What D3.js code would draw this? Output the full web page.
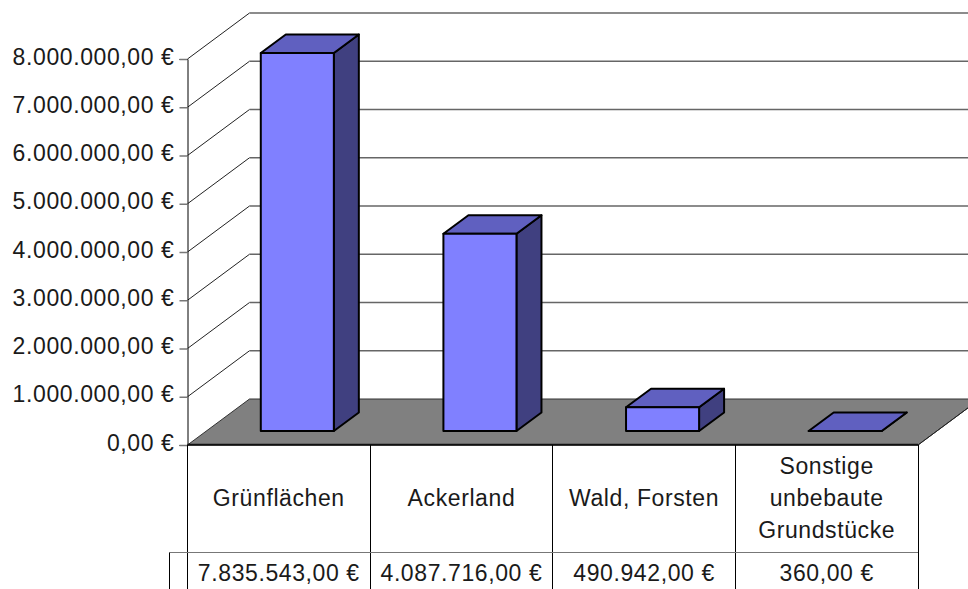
<!DOCTYPE html>
<html>
<head>
<meta charset="utf-8">
<script src="https://d3js.org/d3.v7.min.js"></script>
<style>
html, body { margin: 0; padding: 0; background: #fff; }
svg { display: block; }
text { font-family: "Liberation Sans", Arial, sans-serif; font-size: 23px; letter-spacing: 0.6px; fill: #1a1a1a; }
</style>
</head>
<body>
<svg id="chart" width="968" height="589"></svg>
<script>
const categories = ["Grünflächen", "Ackerland", "Wald, Forsten", "Sonstige unbebaute Grundstücke"];
const categoryLines = [["Grünflächen"], ["Ackerland"], ["Wald, Forsten"], ["Sonstige", "unbebaute", "Grundstücke"]];
const values = [7835543, 4087716, 490942, 360];
const tickValues = [0, 1000000, 2000000, 3000000, 4000000, 5000000, 6000000, 7000000, 8000000];

const svg = d3.select("#chart");
const width = 968, height = 589;

// plot frame, 3d depth of the walls and of the bars
const left = 187.5, right = 918, y0 = 445, yTop = 59;
const wallDx = 62, wallDy = -46;
const barDx = 25, barDy = -18.5;
const barShiftX = 18.5, barShiftY = -14;

const de = d3.formatLocale({decimal: ",", thousands: ".", grouping: [3], currency: ["", " €"]});
const euro = d => de.format(",.2f")(d) + " €";

const x = d3.scaleBand().domain(categories).range([left, right]).paddingInner(0).paddingOuter(0);
const y = d3.scaleLinear().domain([0, 8000000]).range([y0, yTop]);
const barWidth = x.bandwidth() * 0.4;

const poly = pts => d3.line()(pts) + "Z";

// floor
svg.append("path")
    .attr("d", poly([[left, y0], [left + wallDx, y0 + wallDy], [right + wallDx, y0 + wallDy], [right, y0]]))
    .attr("fill", "#808080")
    .attr("stroke", "#333")
    .attr("stroke-width", 1);

// gridlines on the side wall and back wall
const grid = svg.append("g");
grid.selectAll("path.side").data(tickValues.slice(1)).join("path")
    .attr("class", "side")
    .attr("d", d => d3.line()([[left, y(d)], [left + wallDx, y(d) + wallDy]]))
    .attr("stroke", "#222").attr("fill", "none");
grid.selectAll("path.back").data(tickValues.slice(1)).join("path")
    .attr("class", "back")
    .attr("d", d => d3.line()([[left + wallDx, y(d) + wallDy], [width, y(d) + wallDy]]))
    .attr("stroke", "#666").attr("stroke-width", 1.3).attr("fill", "none");

// value axis
const axis = svg.append("g")
    .attr("transform", `translate(${left},0)`)
    .call(d3.axisLeft(y).tickValues(tickValues).tickFormat(euro).tickSize(8).tickPadding(5));
axis.select(".domain").attr("stroke", "#000").attr("stroke-width", 1);
axis.selectAll(".tick line").attr("stroke", "#777").attr("stroke-width", 1.5);
axis.selectAll(".tick text")
    .attr("dy", "0.22em");
axis.attr("font-size", null).attr("font-family", null);

// bars
const bars = svg.selectAll("g.bar").data(values).join("g").attr("class", "bar");
const bx = (d, i) => x(categories[i]) + (x.bandwidth() - barWidth) / 2 + barShiftX;
const base = y0 + barShiftY;
const topY = d => base - (y0 - y(d));

bars.append("path")
    .attr("d", (d, i) => poly([[bx(d, i) + barWidth, base], [bx(d, i) + barWidth + barDx, base + barDy],
        [bx(d, i) + barWidth + barDx, topY(d) + barDy], [bx(d, i) + barWidth, topY(d)]]))
    .attr("fill", "#404080");
bars.append("path")
    .attr("d", (d, i) => poly([[bx(d, i), topY(d)], [bx(d, i) + barDx, topY(d) + barDy],
        [bx(d, i) + barWidth + barDx, topY(d) + barDy], [bx(d, i) + barWidth, topY(d)]]))
    .attr("fill", "#6060c0");
bars.append("rect")
    .attr("x", bx)
    .attr("y", d => topY(d))
    .attr("width", barWidth)
    .attr("height", d => base - topY(d))
    .attr("fill", "#8080ff");
bars.selectAll("path, rect")
    .attr("stroke", "#000").attr("stroke-width", 2).attr("stroke-linejoin", "round");

// floor front edge
svg.append("path")
    .attr("d", d3.line()([[left, y0 - 0.3], [right, y0 - 0.3]]))
    .attr("stroke", "#111").attr("stroke-width", 2);
svg.append("path")
    .attr("d", d3.line()([[right, y0], [right + wallDx, y0 + wallDy]]))
    .attr("stroke", "#222");

// data table under the plot
const tableTop = 552.5, tableLeft = 169.5;
const table = svg.append("g");
const edges = [left].concat(categories.slice(1).map(c => x(c)), [right]);
table.selectAll("path.col").data(edges).join("path")
    .attr("class", "col")
    .attr("d", d => d3.line()([[Math.floor(d) + 0.5, y0], [Math.floor(d) + 0.5, height]]))
    .attr("stroke", "#000");
table.append("path")
    .attr("d", d3.line()([[tableLeft, tableTop], [right, tableTop]]))
    .attr("stroke", "#777");
table.append("path")
    .attr("d", d3.line()([[tableLeft, tableTop], [tableLeft, height]]))
    .attr("stroke", "#000");

const lineGap = 32;
table.selectAll("text.cat").data(categoryLines).join("text")
    .attr("class", "cat")
    .attr("text-anchor", "middle")
    .attr("y", 498)
    .selectAll("tspan").data((d, i) => d.map((s, k) => ({s, k, n: d.length, i}))).join("tspan")
    .attr("x", d => x(categories[d.i]) + x.bandwidth() / 2)
    .attr("dy", d => d.k === 0 ? ((d.n - 1) * -lineGap / 2 + 8) : lineGap)
    .text(d => d.s);

table.selectAll("text.val").data(values).join("text")
    .attr("class", "val")
    .attr("text-anchor", "middle")
    .attr("x", (d, i) => x(categories[i]) + x.bandwidth() / 2)
    .attr("y", 581)
    .text(euro);
</script>
</body>
</html>
